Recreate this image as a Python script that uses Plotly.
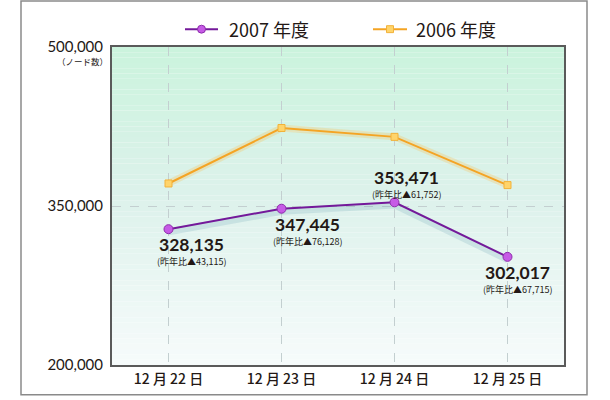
import plotly.graph_objects as go

categories = ["12 月 22 日", "12 月 23 日", "12 月 24 日", "12 月 25 日"]
v2007 = [328135, 347445, 353471, 302017]
v2006 = [371250, 423573, 415223, 369732]
diff_labels = ["43,115", "76,128", "61,752", "67,715"]
y_ticks = [200000, 350000, 500000]
y_ticktext = ["200,000", "350,000", "500,000"]
series_names = ["2007 年度", "2006 年度"]

# label offsets (pixels) relative to each 2007 point: (dx, dy_main, dy_sub)
label_offsets = [(23, -15, -32), (26, -16, -33), (12, 25, 8), (10, -16, -33)]

FONT = "Noto Sans CJK JP"
NUMFONT = "Lato"
PURPLE = "#74199a"
ORANGE = "#f4a424"

L, R, T, B = 112, 46, 47, 32
W, H = 610, 400
pw, ph = W - L - R, H - T - B

def px_x(px):
    return (px - L) / pw

def px_y(py):
    return (H - B - py) / ph

fig = go.Figure()

# glow / shadow traces
fig.add_trace(go.Scatter(x=categories, y=v2006, mode="lines",
                         line=dict(color="rgba(250,190,80,0.28)", width=7),
                         hoverinfo="skip", showlegend=False))
fig.add_trace(go.Scatter(x=categories, y=[v - 2500 for v in v2007], mode="lines",
                         line=dict(color="rgba(90,150,170,0.18)", width=7),
                         hoverinfo="skip", showlegend=False))

fig.add_trace(go.Scatter(x=categories, y=v2006, mode="lines+markers", name=series_names[1],
                         line=dict(color=ORANGE, width=2),
                         marker=dict(symbol="square", size=7, color="#ffd46a",
                                     line=dict(color="#f2b23a", width=1)),
                         showlegend=False))
fig.add_trace(go.Scatter(x=categories, y=v2007, mode="lines+markers", name=series_names[0],
                         line=dict(color=PURPLE, width=2),
                         marker=dict(symbol="circle", size=9, color="#c65ae6",
                                     line=dict(color="#8d2cab", width=1)),
                         showlegend=False))

shapes = []
# gradient background bands in plot area
top = (203, 243, 221)
mid = (222, 242, 236)
bot = (246, 251, 251)
n = 60
for i in range(n):
    t = i / (n - 1)
    if t < 0.5:
        u = t / 0.5
        c = tuple(round(top[k] + (mid[k] - top[k]) * u) for k in range(3))
    else:
        u = (t - 0.5) / 0.5
        c = tuple(round(mid[k] + (bot[k] - mid[k]) * u) for k in range(3))
    shapes.append(dict(type="rect", xref="paper", yref="paper",
                       x0=0, x1=1, y1=1 - i / n, y0=1 - (i + 1) / n,
                       fillcolor="rgb(%d,%d,%d)" % c, line=dict(width=0), layer="below"))

# outer frame
shapes.append(dict(type="rect", xref="paper", yref="paper",
                   x0=px_x(21), x1=px_x(587), y0=px_y(398), y1=px_y(0.5),
                   line=dict(color="#8a8a8a", width=1.5), layer="below"))

# manual legend
legend_items = [
    (series_names[0], 185, 218, 227, PURPLE, "circle", "#c65ae6", "#8d2cab"),
    (series_names[1], 373, 407, 414, ORANGE, "square", "#ffd46a", "#f2b23a"),
]
annotations = []
ly = 29
for name, x0, x1, tx, col, sym, fc, lc in legend_items:
    shapes.append(dict(type="line", xref="paper", yref="paper",
                       x0=px_x(x0), x1=px_x(x1), y0=px_y(ly), y1=px_y(ly),
                       line=dict(color=col, width=2)))
    cx = (x0 + x1) / 2
    r = 4 if sym == "circle" else 3.5
    shapes.append(dict(type="circle" if sym == "circle" else "rect", xref="paper", yref="paper",
                       x0=px_x(cx - r), x1=px_x(cx + r), y0=px_y(ly + r), y1=px_y(ly - r),
                       fillcolor=fc, line=dict(color=lc, width=1)))
    annotations.append(dict(text=name, xref="paper", yref="paper", x=px_x(tx), y=px_y(ly),
                            xanchor="left", yanchor="middle", showarrow=False,
                            font=dict(family=FONT, size=18, color="#231815")))

# unit label under the top tick
annotations.append(dict(text="（ノード数）", xref="paper", yref="paper", x=px_x(109), y=px_y(61),
                        xanchor="right", yanchor="middle", showarrow=False, borderpad=0,
                        font=dict(family=FONT, size=8.5, color="#231815")))

# data labels
for i, (cat, v) in enumerate(zip(categories, v2007)):
    dx, dm, ds = label_offsets[i]
    annotations.append(dict(text="<b>%s</b>" % f"{v:,}", x=cat, y=v, xref="x", yref="y",
                            xshift=dx, yshift=dm, showarrow=False, borderpad=0,
                            xanchor="center", yanchor="middle",
                            font=dict(family=NUMFONT, size=17.5, color="#231815")))
    annotations.append(dict(text="(昨年比▲%s)" % diff_labels[i], x=cat, y=v, xref="x", yref="y",
                            xshift=dx, yshift=ds, showarrow=False, borderpad=0,
                            xanchor="center", yanchor="middle",
                            font=dict(family=FONT, size=9, color="#231815")))

fig.update_layout(
    width=W, height=H,
    margin=dict(l=L, r=R, t=T, b=B),
    paper_bgcolor="white",
    plot_bgcolor="rgba(0,0,0,0)",
    shapes=shapes,
    annotations=annotations,
    showlegend=False,
    font=dict(family=FONT, color="#231815"),
)
fig.update_xaxes(range=[-0.5, 3.5], showgrid=True, gridcolor="#c3cfd0", griddash="dash",
                 gridwidth=1, showline=True, mirror=True, linecolor="#5a5a5a", linewidth=2,
                 ticks="", tickfont=dict(family=FONT, size=14, color="#231815", weight=500),
                 zeroline=False)
fig.update_yaxes(range=[200000, 500000], tickvals=y_ticks, ticktext=y_ticktext,
                 showgrid=True, gridcolor="#c3cfd0", griddash="dash", gridwidth=1,
                 showline=True, mirror=True, linecolor="#5a5a5a", linewidth=2,
                 ticks="", ticklabelstandoff=4,
                 tickfont=dict(family=NUMFONT, size=15, color="#231815"),
                 zeroline=False)

fig.write_html("out.html")
